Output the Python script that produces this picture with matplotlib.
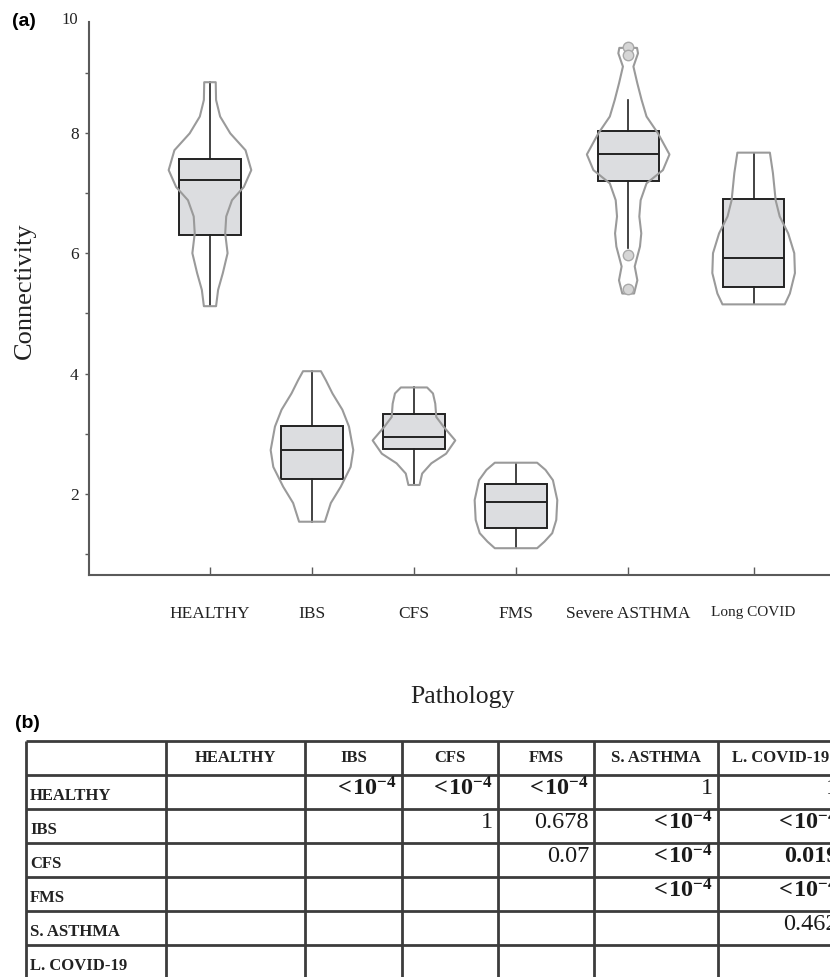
import numpy as np
import matplotlib
matplotlib.use('Agg')
import matplotlib.pyplot as plt

# ---- data ----
groups = ['HEALTHY', 'IBS', 'CFS', 'FMS', 'Severe ASTHMA', 'Long COVID']
q1 = [6.30, 2.25, 2.75, 1.44, 7.20, 5.44]
med = [7.22, 2.73, 2.95, 1.87, 7.65, 5.92]
q3 = [7.56, 3.13, 3.33, 2.17, 8.03, 6.90]
whislo = [5.12, 1.54, 2.15, 1.10, 6.08, 5.16]
whishi = [8.84, 4.04, 3.77, 2.51, 8.55, 7.67]
fliers = [[], [], [], [], [9.43, 9.30, 5.97, 5.40], []]

# violin outlines: connectivity level and relative density (bottom -> top)
healthy_y = [5.12, 5.39, 5.67, 6.00, 6.33, 6.61, 6.88, 7.10, 7.38, 7.71, 7.99, 8.27, 8.545, 8.84]
healthy_d = [18, 24, 38, 52, 45, 48, 65, 100, 122, 105, 60, 30, 18, 17]
ibs_y = [1.54, 1.85, 2.12, 2.45, 2.73, 3.12, 3.40, 3.67, 3.89, 4.04]
ibs_d = [39, 57, 87, 117, 125, 112, 92, 62, 42, 27]
cfs_y = [2.15, 2.34, 2.51, 2.67, 2.89, 3.12, 3.28, 3.50, 3.67, 3.77]
cfs_d = [17, 25, 53, 98, 126, 90, 68, 65, 58, 40]
fms_y = [1.10, 1.21, 1.35, 1.57, 1.90, 2.23, 2.40, 2.52]
fms_d = [63, 85, 108, 120, 123, 110, 88, 63]
asthma_y = [5.33, 5.55, 5.78, 6.11, 6.33, 6.61, 6.88, 7.16, 7.38, 7.64, 7.99, 8.27, 8.545, 8.82, 9.10, 9.32, 9.41]
asthma_d = [18, 28, 20, 36, 40, 34, 38, 56, 106, 126, 91, 56, 41, 28, 16, 30, 27]
covid_y = [5.15, 5.33, 5.67, 6.00, 6.33, 6.61, 6.88, 7.33, 7.67]
covid_d = [92, 107, 122, 120, 102, 77, 65, 57, 48]

# pairwise p-values table
tab_names = ['HEALTHY', 'IBS', 'CFS', 'FMS', 'S. ASTHMA', 'L. COVID-19']
pvals = [
    ['', '<1e-4', '<1e-4', '<1e-4', '1', '1'],
    ['', '', '1', '0.678', '<1e-4', '<1e-4'],
    ['', '', '', '0.07', '<1e-4', '0.019'],
    ['', '', '', '', '<1e-4', '<1e-4'],
    ['', '', '', '', '', '0.462'],
    ['', '', '', '', '', ''],
]

plt.rcParams['font.family'] = 'Liberation Serif'
plt.rcParams['mathtext.fontset'] = 'custom'
plt.rcParams['mathtext.rm'] = 'Liberation Serif'
plt.rcParams['mathtext.bf'] = 'Liberation Serif:bold'

W, H = 830, 977
fig = plt.figure(figsize=(W / 100, H / 100), dpi=100)

# ---- (a) violin + box plot ----
xpos = [1, 2, 3, 4, 5.1, 6.33]
ax = fig.add_axes([89 / W, 1 - 575 / H, (900 - 89) / W, (575 - 22) / H])

stats = []
for i in range(len(groups)):
    stats.append(dict(med=med[i], q1=q1[i], q3=q3[i], whislo=whislo[i],
                      whishi=whishi[i], fliers=fliers[i]))
ax.bxp(stats, positions=xpos, widths=0.6, patch_artist=True, showcaps=False,
       manage_ticks=False, zorder=2,
       boxprops=dict(facecolor='#dcdde0', edgecolor='#222222', linewidth=1.4),
       whiskerprops=dict(color='#222222', linewidth=1.2),
       medianprops=dict(color='#222222', linewidth=1.4),
       flierprops=dict(marker='o', markersize=7.5, markerfacecolor='#d6d6d6',
                       markeredgecolor='#a8a8a8', markeredgewidth=1, zorder=4))

prof_y = [healthy_y, ibs_y, cfs_y, fms_y, asthma_y, covid_y]
prof_d = [healthy_d, ibs_d, cfs_d, fms_d, asthma_d, covid_d]
vpstats = []
for i in range(len(groups)):
    vpstats.append(dict(coords=np.array(prof_y[i]), vals=np.array(prof_d[i], float),
                        mean=med[i], median=med[i],
                        min=prof_y[i][0], max=prof_y[i][-1]))
parts = ax.violin(vpstats, positions=xpos, widths=0.81, showmeans=False,
                  showextrema=False, showmedians=False)
for b in parts['bodies']:
    b.set_facecolor('none')
    b.set_edgecolor('#9a9a9a')
    b.set_linewidth(1.5)
    b.set_joinstyle('round')
    b.set_alpha(1)
    b.set_zorder(3)

ax.set_xlim(-0.186, 7.765)
ax.set_ylim(0.655, 9.84)
for s in ['top', 'right']:
    ax.spines[s].set_visible(False)
for s in ['left', 'bottom']:
    ax.spines[s].set_color('#5a5a5a')
    ax.spines[s].set_linewidth(1.5)

ax.set_yticks([2, 4, 6, 8])
ax.set_yticks([1, 3, 5, 7, 9], minor=True)
ax.tick_params(axis='y', which='both', direction='out', length=3, width=1,
               color='#5a5a5a', labelsize=12.5, pad=4.5, labelcolor='#222222')
ax.annotate('10', xy=(0, 1), xycoords='axes fraction', xytext=(-8, 1.5),
            textcoords='offset points', ha='right', va='center',
            fontsize=12, color='#222222')

ax.set_xticks(xpos)
ax.set_xticklabels(groups)
ax.tick_params(axis='x', direction='in', length=6, width=1, color='#5a5a5a',
               labelsize=12.5, pad=22, labelcolor='#222222')
ax.get_xticklabels()[-1].set_fontsize(11)

fig.text(25 / W, 1 - 291 / H, 'Connectivity', rotation=90, ha='center',
         va='center', fontsize=19, color='#222222')
fig.text(462 / W, 1 - 697 / H, 'Pathology', ha='center', va='center',
         fontsize=18.5, color='#222222')
fig.text(12 / W, 1 - 22 / H, '(a)', ha='left', va='center', fontsize=14,
         fontweight='bold', family='Liberation Sans')
fig.text(15 / W, 1 - 723 / H, '(b)', ha='left', va='center', fontsize=14,
         fontweight='bold', family='Liberation Sans')

# ---- (b) p-value table, drawn in pixel coordinates ----
tx = fig.add_axes([0, 0, 1, 1])
tx.set_xlim(0, W)
tx.set_ylim(H, 0)
tx.axis('off')

col_edges = [26, 166, 305, 402, 498, 594, 718, 843]
row_top, row_h = 741, 34
n_rows = len(tab_names) + 1
for k in range(n_rows + 1):
    tx.plot([col_edges[0], col_edges[-1]], [row_top + k * row_h] * 2,
            color='#3c3c3c', lw=2.0, solid_capstyle='butt')
for xe in col_edges:
    tx.plot([xe, xe], [row_top, row_top + n_rows * row_h],
            color='#3c3c3c', lw=2.0, solid_capstyle='butt')

for j, name in enumerate(tab_names):
    cx = (col_edges[j + 1] + col_edges[j + 2]) / 2
    tx.text(cx, row_top + row_h / 2, name, ha='center', va='center',
            fontsize=12, fontweight='bold', color='#222222')

for i, name in enumerate(tab_names):
    cy = row_top + (i + 1.5) * row_h
    tx.text(col_edges[0] + 4, cy + 4, name, ha='left', va='center',
            fontsize=12, fontweight='bold', color='#222222')
    for j, p in enumerate(pvals[i]):
        if not p:
            continue
        if p.startswith('<'):
            s, bold = r'$\mathbf{<\!10^{-4}}$', True
        else:
            s, bold = p, float(p) < 0.05
        tx.text(col_edges[j + 2] - 5, cy - 3, s, ha='right', va='center',
                fontsize=17.5, fontweight='bold' if bold else 'normal',
                color='#1a1a1a')

fig.savefig('out.png', dpi=100)
